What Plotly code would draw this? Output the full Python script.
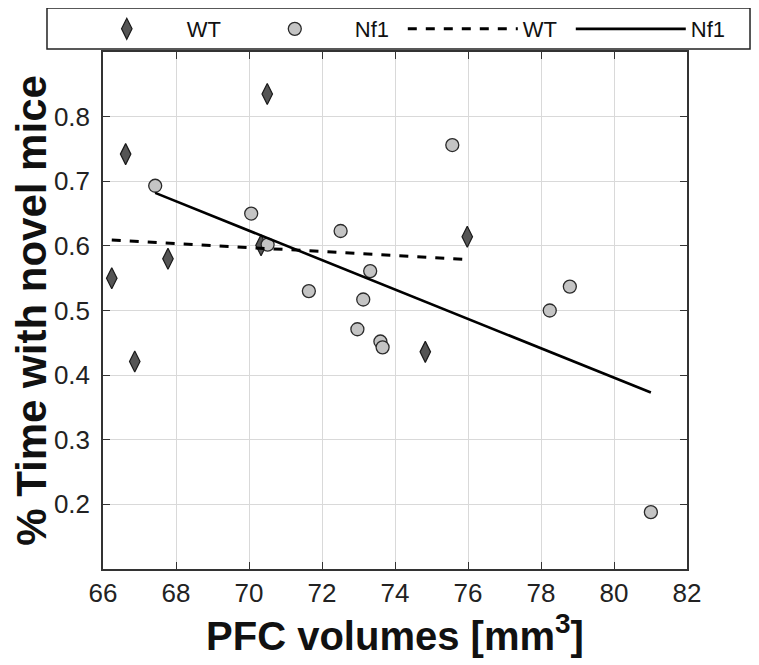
import plotly.graph_objects as go

# WT (diamonds)
wt_x = [66.24, 66.62, 66.87, 67.78, 70.33, 70.50, 74.83, 75.98]
wt_y = [0.550, 0.742, 0.421, 0.580, 0.601, 0.835, 0.436, 0.614]

# Nf1 (circles)
nf1_x = [67.43, 70.06, 70.51, 71.64, 72.51, 72.97, 73.13, 73.32, 73.60, 73.66, 75.57, 78.24, 78.79, 81.01]
nf1_y = [0.693, 0.650, 0.602, 0.530, 0.623, 0.471, 0.517, 0.561, 0.452, 0.443, 0.756, 0.500, 0.537, 0.188]

# fitted lines (endpoints)
wt_fit_x = [66.24, 75.98]
wt_fit_y = [0.609, 0.579]
nf1_fit_x = [67.43, 81.01]
nf1_fit_y = [0.682, 0.373]

x_ticks = [66, 68, 70, 72, 74, 76, 78, 80, 82]
y_ticks = [0.2, 0.3, 0.4, 0.5, 0.6, 0.7, 0.8]

FONT = "Liberation Sans, Arial, Helvetica, sans-serif"

fig = go.Figure()
fig.add_trace(go.Scatter(
    x=wt_x, y=wt_y, mode="markers", name="WT",
    marker=dict(symbol="diamond-tall", size=15, color="#555555",
                line=dict(color="#1a1a1a", width=1.2))))
fig.add_trace(go.Scatter(
    x=nf1_x, y=nf1_y, mode="markers", name="Nf1",
    marker=dict(symbol="circle", size=13, color="#c4c4c4",
                line=dict(color="#2a2a2a", width=1.3))))
fig.add_trace(go.Scatter(
    x=wt_fit_x, y=wt_fit_y, mode="lines", name="WT",
    line=dict(color="black", width=3, dash="dash")))
fig.add_trace(go.Scatter(
    x=nf1_fit_x, y=nf1_fit_y, mode="lines", name="Nf1",
    line=dict(color="black", width=2.6)))

axis_common = dict(
    showline=True, linecolor="#333333", linewidth=1.5, mirror="allticks",
    ticks="inside", ticklen=7, tickwidth=1.2, tickcolor="#333333",
    showgrid=True, gridcolor="#d9d9d9", gridwidth=1, zeroline=False,
    tickfont=dict(family=FONT, size=26, color="#222222"),
)

fig.update_layout(
    width=751, height=657,
    paper_bgcolor="white", plot_bgcolor="white",
    margin=dict(l=95, r=72, t=44, b=96, autoexpand=False),
    font=dict(family=FONT, color="#222222"),
    xaxis=dict(axis_common, range=[66, 82], tickvals=x_ticks,
               title=dict(text="<b>PFC volumes [mm<sup>3</sup>]</b>",
                          font=dict(family=FONT, size=40, color="#111111"),
                          standoff=0)),
    yaxis=dict(axis_common, range=[0.1, 0.9], tickvals=y_ticks,
               tickformat=".1f", ticklabelstandoff=6,
               title=dict(text="<b>% Time with novel mice</b>",
                          font=dict(family=FONT, size=42, color="#111111"),
                          standoff=33)),
    legend=dict(orientation="h", x=-0.062, xanchor="left", y=1.085, yanchor="top",
                bgcolor="rgba(0,0,0,0)", borderwidth=0,
                font=dict(family=FONT, size=22, color="#111111"),
                entrywidth=43, entrywidthmode="pixels", itemwidth=110),
    shapes=[dict(type="rect", xref="paper", yref="paper",
                 x0=-0.0959, x1=1.1079, y0=1.0058, y1=1.085,
                 line=dict(color="#222222", width=1.5), fillcolor="white",
                 layer="below")],
    showlegend=True,
)

fig.write_html("out.html")
